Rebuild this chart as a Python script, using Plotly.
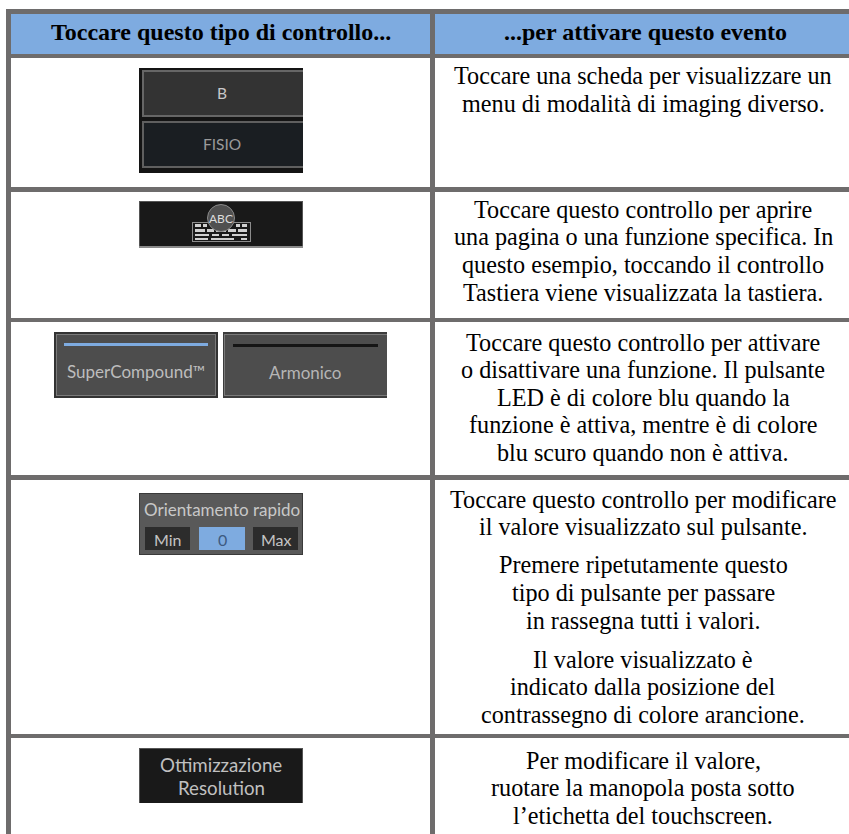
import plotly.graph_objects as go

W, H = 849, 834
SERIF = "Liberation Serif"
UI = "Lato"
BORDER = "#6e6c6c"
BLUE = "#7eabe0"

headers = ["Toccare questo tipo di controllo...", "...per attivare questo evento"]
header_x = [221, 645]
header_y = 32

desc_lines = [
    "Toccare una scheda per visualizzare un", "menu di modalità di imaging diverso.",
    "Toccare questo controllo per aprire", "una pagina o una funzione specifica. In",
    "questo esempio, toccando il controllo", "Tastiera viene visualizzata la tastiera.",
    "Toccare questo controllo per attivare", "o disattivare una funzione. Il pulsante",
    "LED è di colore blu quando la", "funzione è attiva, mentre è di colore",
    "blu scuro quando non è attiva.",
    "Toccare questo controllo per modificare", "il valore visualizzato sul pulsante.",
    "Premere ripetutamente questo", "tipo di pulsante per passare", "in rassegna tutti i valori.",
    "Il valore visualizzato è", "indicato dalla posizione del", "contrassegno di colore arancione.",
    "Per modificare il valore,", "ruotare la manopola posta sotto", "l’etichetta del touchscreen.",
]
desc_y = [75, 103, 209, 236, 264, 292, 342, 369, 397, 424, 452,
          499, 526, 564, 592, 620, 659, 686, 714, 760, 787, 815]

# x0, y0, x1, y1, fill
header_fill = [(10, 14, 431, 54), (435, 14, 849, 54)]
h_rules = [(6, 9, 849, 14), (6, 54, 849, 58), (6, 187, 849, 192), (6, 318, 849, 322),
           (6, 475, 849, 480), (6, 734, 849, 738)]
v_rules = [(6, 9, 11, 834), (430, 9, 435, 834)]

widgets = [
    (139, 68, 303, 173, "#141414"),
    (142, 70, 303, 117, "#666666"), (144, 72, 303, 115, "#333333"),
    (142, 121, 303, 168, "#5f5f5f"), (144, 123, 303, 166, "#1a1e22"),
    (139, 201, 303, 248, "#555555"), (140, 202, 302, 246, "#191919"), (139, 246, 303, 248, "#8a8a8a"),
    (192, 222, 251, 242, "#8c8c8c"), (193, 223, 250, 241, "#191919"),
    (54, 332, 218, 398, "#333333"),
    (56, 334, 216, 396, "#7a7a7a"), (57, 335, 215, 395, "#4d4d4d"),
    (64, 343, 208, 346, BLUE),
    (223, 332, 387, 398, "#3c3c3c"),
    (224, 334, 387, 396, "#7a7a7a"), (225, 335, 387, 395, "#4d4d4d"),
    (233, 344, 378, 347, "#151515"),
    (139, 493, 303, 555, "#3a3a3a"), (140, 494, 302, 554, "#595959"),
    (145, 527, 190, 550, "#2c2c2c"),
    (199, 527, 245, 550, BLUE),
    (253, 527, 298, 550, "#2c2c2c"),
    (139, 748, 303, 803, "#555555"), (140, 749, 302, 803, "#191919"),
]
kbd_keys = [
    (195, 224, 201, 227), (203, 224, 207, 227), (236, 224, 240, 227), (242, 224, 247, 227),
    (195, 229, 205, 232), (207, 229, 214, 232), (216, 229, 226, 232), (228, 229, 236, 232), (238, 229, 247, 232),
    (195, 234, 209, 236), (212, 234, 219, 236), (222, 234, 229, 236), (232, 234, 247, 236),
    (195, 238, 208, 240), (211, 238, 234, 240), (241, 238, 247, 240),
]
widget_text = [
    ("B", 222, 93, "#c8c8c8", 15.5), ("FISIO", 222, 144, "#9a9a9a", 15.5),
    ("ABC", 221, 218, "#dddddd", 12),
    ("SuperCompound™", 136, 371, "#bdbdbd", 17), ("Armonico", 305, 372, "#b5b5b5", 17),
    ("Orientamento rapido", 222, 509, "#c8c8c8", 17),
    ("Min", 168, 539, "#c4c4c4", 16), ("0", 222, 539, "#3d5a80", 16), ("Max", 276, 539, "#c4c4c4", 16),
    ("Ottimizzazione", 221, 765, "#c0c0c0", 18.7), ("Resolution", 221, 788, "#c0c0c0", 18.7),
]

fig = go.Figure()
shapes = []


def rect(x0, y0, x1, y1, fill):
    shapes.append(dict(type="rect", xref="x", yref="y", x0=x0, y0=y0, x1=x1, y1=y1,
                       fillcolor=fill, layer="above", line=dict(color=fill, width=0)))


for r in header_fill:
    rect(*r, BLUE)
for r in h_rules + v_rules:
    rect(*r, BORDER)
for w in widgets:
    rect(*w)
for k in kbd_keys:
    rect(*k, "#d0d0d0")
shapes.append(dict(type="circle", xref="x", yref="y", x0=207.5, y0=204.5, x1=234.5, y1=231.5,
                   fillcolor="#505050", line=dict(color="#8a8a8a", width=1), layer="above"))

anns = []
for t, x in zip(headers, header_x):
    anns.append(dict(text=f"<b>{t}</b>", x=x, y=header_y, xref="x", yref="y", showarrow=False,
                     xanchor="center", yanchor="middle", font=dict(family=SERIF, size=24, color="#000000")))
for t, y in zip(desc_lines, desc_y):
    anns.append(dict(text=t, x=643, y=y, xref="x", yref="y", showarrow=False,
                     xanchor="center", yanchor="middle", font=dict(family=SERIF, size=24.2, color="#000000")))
for t, x, y, c, s in widget_text:
    anns.append(dict(text=t, x=x, y=y, xref="x", yref="y", showarrow=False,
                     xanchor="center", yanchor="middle", font=dict(family=UI, size=s, color=c)))

fig.update_layout(
    width=W, height=H, margin=dict(l=0, r=0, t=0, b=0), paper_bgcolor="white", plot_bgcolor="white",
    xaxis=dict(range=[0, W], visible=False, fixedrange=True),
    yaxis=dict(range=[H, 0], visible=False, fixedrange=True),
    shapes=shapes, annotations=anns, showlegend=False,
)
fig.write_html("out.html", config=dict(displayModeBar=False),
               post_script="document.body.style.margin='0';document.documentElement.style.overflow='hidden';")
